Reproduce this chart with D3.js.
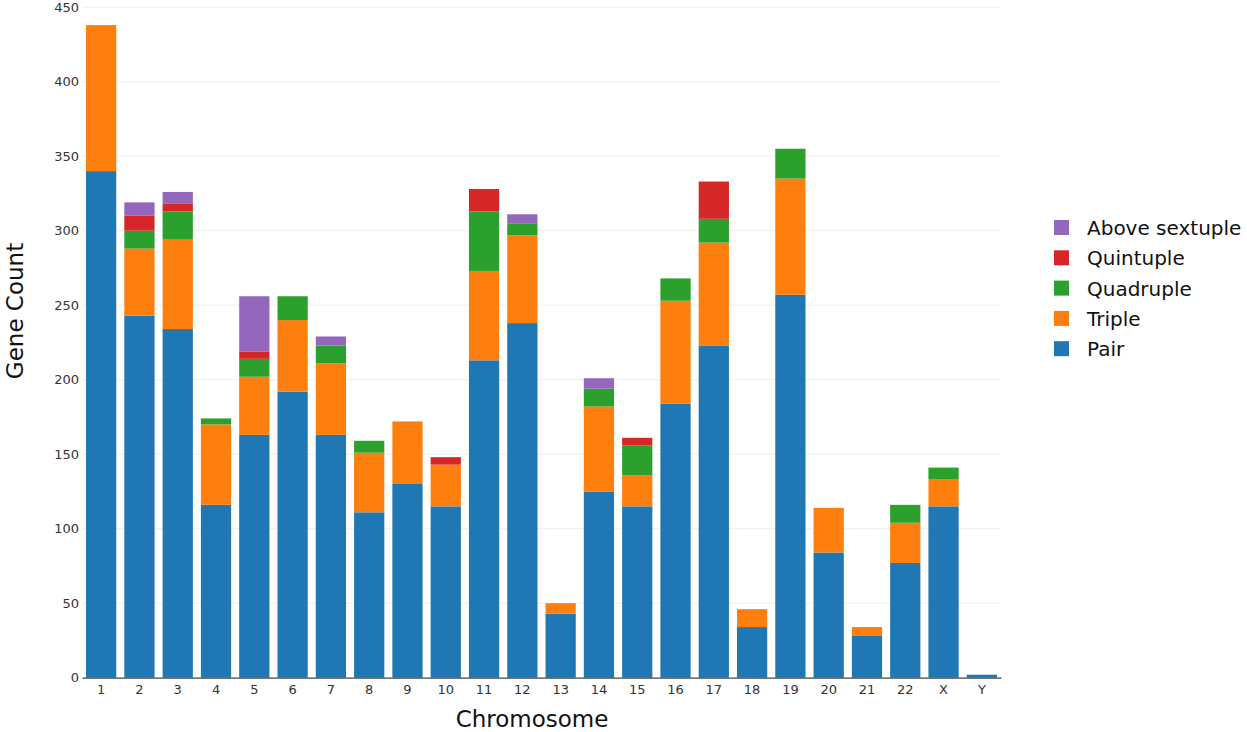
<!DOCTYPE html>
<html>
<head>
<meta charset="utf-8">
<script src="https://cdn.jsdelivr.net/npm/d3@7"></script>
<style>
  html, body { margin: 0; padding: 0; background: #fff; }
  svg { display: block; font-family: "DejaVu Sans", Verdana, sans-serif; }
</style>
</head>
<body>
<svg id="chart" width="1247" height="732"></svg>
<script>
const categories = ["1","2","3","4","5","6","7","8","9","10","11","12","13","14","15","16","17","18","19","20","21","22","X","Y"];
const pair      = [340,243,234,116,163,192,163,111,130,115,213,238,43,125,115,184,223,34,257,84,28,77,115,2];
const triple    = [98, 45, 60, 54, 39, 48, 48, 40, 42, 28, 60, 59, 7, 57, 21, 69, 69, 12,78,30,6, 27,18, 0];
const quadruple = [0,  12, 19, 4,  12, 16, 12, 8,  0,  0,  40, 8,  0, 12, 20, 15, 16, 0, 20,0, 0, 12,8,  0];
const quintuple = [0,  10, 5,  0,  5,  0,  0,  0,  0,  5,  15, 0,  0, 0,  5,  0,  25, 0, 0, 0, 0, 0, 0,  0];
const aboveSext = [0,  9,  8,  0,  37, 0,  6,  0,  0,  0,  0,  6,  0, 7,  0,  0,  0,  0, 0, 0, 0, 0, 0,  0];
const seriesNames = ["Pair","Triple","Quadruple","Quintuple","Above sextuple"];
const seriesColors = ["#1f77b4","#ff7f0e","#2ca02c","#d62728","#9467bd"];
const yTicks = [0,50,100,150,200,250,300,350,400,450];

(function () {
const seriesValues = [pair, triple, quadruple, quintuple, aboveSext];
const rows = categories.map((c, i) => {
  const r = {cat: c};
  seriesNames.forEach((s, k) => r[s] = seriesValues[k][i]);
  return r;
});

const svg = d3.select("#chart");
const mLeft = 82, mRight = 1001, mTop = 7.2, mBottom = 677.7;

const x = d3.scaleBand().domain(categories).range([mLeft, mRight]).paddingInner(0.21).paddingOuter(0.105);
const y = d3.scaleLinear().domain([0, 450]).range([mBottom, mTop]);

// gridlines
svg.append("g").selectAll("line").data(yTicks.filter(d => d > 0)).join("line")
  .attr("x1", mLeft).attr("x2", mRight)
  .attr("y1", d => y(d)).attr("y2", d => y(d))
  .attr("stroke", "#eeeeee").attr("stroke-width", 1);

const stacked = d3.stack().keys(seriesNames)(rows);
const color = d3.scaleOrdinal().domain(seriesNames).range(seriesColors);

svg.append("g").selectAll("g").data(stacked).join("g")
  .attr("fill", d => color(d.key))
  .selectAll("rect").data(d => d.filter(p => p[1] - p[0] > 0)).join("rect")
  .attr("x", d => x(d.data.cat))
  .attr("width", x.bandwidth())
  .attr("y", d => y(d[1]))
  .attr("height", d => y(d[0]) - y(d[1]));

// x axis
const xAxis = svg.append("g").attr("transform", `translate(0,${mBottom})`)
  .call(d3.axisBottom(x).tickSize(0).tickPadding(7));
xAxis.select(".domain").attr("stroke", "#444").attr("stroke-width", 1.2);
xAxis.selectAll("text").attr("font-size", 13).attr("fill", "#333")
  .attr("font-family", "DejaVu Sans, Verdana, sans-serif");

// y axis
const yAxis = svg.append("g").attr("transform", `translate(${mLeft},0)`)
  .call(d3.axisLeft(y).tickValues(yTicks).tickSize(0).tickPadding(3));
yAxis.select(".domain").remove();
yAxis.selectAll("text").attr("font-size", 13).attr("fill", "#333")
  .attr("font-family", "DejaVu Sans, Verdana, sans-serif");

// axis titles
svg.append("text").attr("x", 532).attr("y", 727).attr("text-anchor", "middle")
  .attr("font-size", 23).attr("fill", "#111").text("Chromosome");
svg.append("text").attr("transform", "translate(23,311) rotate(-90)").attr("text-anchor", "middle")
  .attr("font-size", 23).attr("fill", "#111").text("Gene Count");

// legend
const legendOrder = seriesNames.slice().reverse();
const lg = svg.append("g").selectAll("g").data(legendOrder).join("g")
  .attr("transform", (d, i) => `translate(1054,${228 + i * 30.3})`);
lg.append("rect").attr("x", 0).attr("y", -8).attr("width", 15).attr("height", 15)
  .attr("fill", d => color(d));
lg.append("text").attr("x", 33).attr("y", 0).attr("dy", "0.35em")
  .attr("font-size", 20).attr("fill", "#111").text(d => d);
})();
</script>
</body>
</html>
